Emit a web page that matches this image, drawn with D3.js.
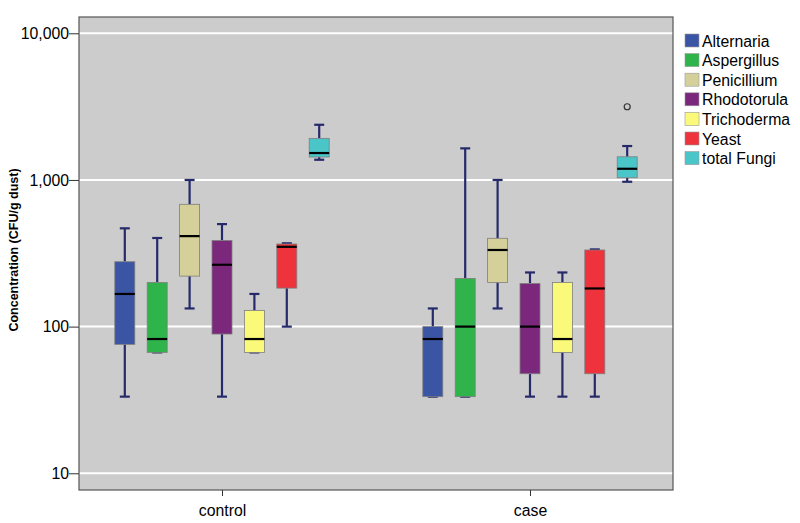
<!DOCTYPE html>
<html><head><meta charset="utf-8">
<script src="https://cdn.jsdelivr.net/npm/d3@7"></script>
<style>body{margin:0;background:#fff;} text{font-family:Arial,"Liberation Sans",sans-serif;}</style>
</head><body><svg id="c" width="800" height="523"></svg>
<script>
const groups = ["control", "case"];
const series = ["Alternaria","Aspergillus","Penicillium","Rhodotorula","Trichoderma","Yeast","total Fungi"];
const colors = ["#3b55a5","#2fb44b","#d5d09a","#7a277c","#fbf979","#ee333d","#4ac5c8"];
// [whiskerLow, q1, median, q3, whiskerHigh]
const controlStats = [
  [33.3, 75.7, 167, 277, 468],
  [66.7, 66.7, 82.3, 200, 402],
  [133, 221, 414, 682, 1000],
  [33.3, 89, 264, 387, 500],
  [66.7, 66.7, 82.3, 129, 167],
  [100, 183, 350, 366, 370],
  [1373, 1433, 1526, 1921, 2378]
];
const caseStats = [
  [33.3, 33.3, 82.3, 100, 133],
  [33.3, 33.3, 100, 213, 1642],
  [133, 200, 333, 400, 1000],
  [33.3, 47.7, 100, 197, 234],
  [33.3, 66.7, 82.3, 200, 234],
  [33.3, 47.7, 182, 333, 336],
  [972, 1035, 1192, 1439, 1703]
];
const outliers = [{group:"case", series:"total Fungi", value:3155}];
const yTicks = [10, 100, 1000, 10000];

const svg = d3.select("#c");
const L = 79, R = 673, T = 17, B = 490;

const y = d3.scaleLog().domain([7.69, 12915]).range([B, T]);
const x = d3.scalePoint().domain(groups).range([222, 530]);
const off = d3.scalePoint().domain(series).range([-97.2, 97.2]);
const bw = 20, cap = 10;

svg.append("rect").attr("x", L).attr("y", T).attr("width", R - L).attr("height", B - T).attr("fill", "#cccccc");
svg.append("g").selectAll("line").data(yTicks).join("line")
  .attr("x1", L).attr("x2", R).attr("y1", d => y(d)).attr("y2", d => y(d))
  .attr("stroke", "#ffffff").attr("stroke-width", 2);

const stats = {control: controlStats, case: caseStats};
const data = [];
groups.forEach(g => series.forEach((s, i) => {
  const st = stats[g][i];
  data.push({g, s, i, lo: st[0], q1: st[1], med: st[2], q3: st[3], hi: st[4]});
}));

const bx = svg.append("g");
data.forEach(d => {
  const cx = x(d.g) + off(d.s);
  const gg = bx.append("g");
  const wc = "#262a6a";
  gg.append("line").attr("x1", cx).attr("x2", cx).attr("y1", y(d.hi)).attr("y2", y(d.q3)).attr("stroke", wc).attr("stroke-width", 2.2);
  gg.append("line").attr("x1", cx).attr("x2", cx).attr("y1", y(d.q1)).attr("y2", y(d.lo)).attr("stroke", wc).attr("stroke-width", 2.2);
  gg.append("line").attr("x1", cx - cap/2).attr("x2", cx + cap/2).attr("y1", y(d.hi)).attr("y2", y(d.hi)).attr("stroke", wc).attr("stroke-width", 2.2);
  gg.append("line").attr("x1", cx - cap/2).attr("x2", cx + cap/2).attr("y1", y(d.lo)).attr("y2", y(d.lo)).attr("stroke", wc).attr("stroke-width", 2.2);
  gg.append("rect").attr("x", cx - bw/2).attr("y", y(d.q3)).attr("width", bw).attr("height", Math.max(0.5, y(d.q1) - y(d.q3)))
    .attr("fill", colors[d.i]).attr("stroke", "#7f7f7f").attr("stroke-width", 0.8);
  gg.append("line").attr("x1", cx - bw/2).attr("x2", cx + bw/2).attr("y1", y(d.med)).attr("y2", y(d.med)).attr("stroke", "#000").attr("stroke-width", 2.2);
});
outliers.forEach(o => {
  svg.append("circle").attr("cx", x(o.group) + off(o.series)).attr("cy", y(o.value)).attr("r", 3)
    .attr("fill", "none").attr("stroke", "#333").attr("stroke-width", 1.2);
});

// frame
svg.append("rect").attr("x", L).attr("y", T).attr("width", R - L).attr("height", B - T)
  .attr("fill", "none").attr("stroke", "#555").attr("stroke-width", 1.2);

// y axis
const yAxis = d3.axisLeft(y).tickValues(yTicks).tickFormat(d3.format(",")).tickSize(10).tickPadding(0);
const ya = svg.append("g").attr("transform", `translate(${L},0)`).call(yAxis);
ya.select(".domain").remove();
ya.selectAll(".tick line").attr("stroke", "#333");
ya.selectAll("text").attr("font-size", "15.8px").attr("fill", "#000").style("font-family", "Arial, 'Liberation Sans', sans-serif");

// x axis
const xAxis = d3.axisBottom(x).tickSize(6).tickPadding(9);
const xa = svg.append("g").attr("transform", `translate(0,${B})`).call(xAxis);
xa.select(".domain").remove();
xa.selectAll(".tick line").attr("stroke", "#333");
xa.selectAll("text").attr("font-size", "15.8px").attr("fill", "#000").style("font-family", "Arial, 'Liberation Sans', sans-serif");

// y title
svg.append("text").attr("transform", "translate(18,250) rotate(-90)").attr("text-anchor", "middle")
  .attr("font-size", "12.5px").attr("font-weight", "bold").text("Concentration (CFU/g dust)");

// legend
const lg = svg.append("g").selectAll("g").data(series).join("g")
  .attr("transform", (d, i) => `translate(685,${34 + i * 19.6})`);
lg.append("rect").attr("width", 14).attr("height", 13).attr("fill", (d, i) => colors[i]).attr("stroke", "#999").attr("stroke-width", 0.6);
lg.append("text").attr("x", 17).attr("y", 12.5).attr("font-size", "15.8px").text(d => d);
</script></body></html>
